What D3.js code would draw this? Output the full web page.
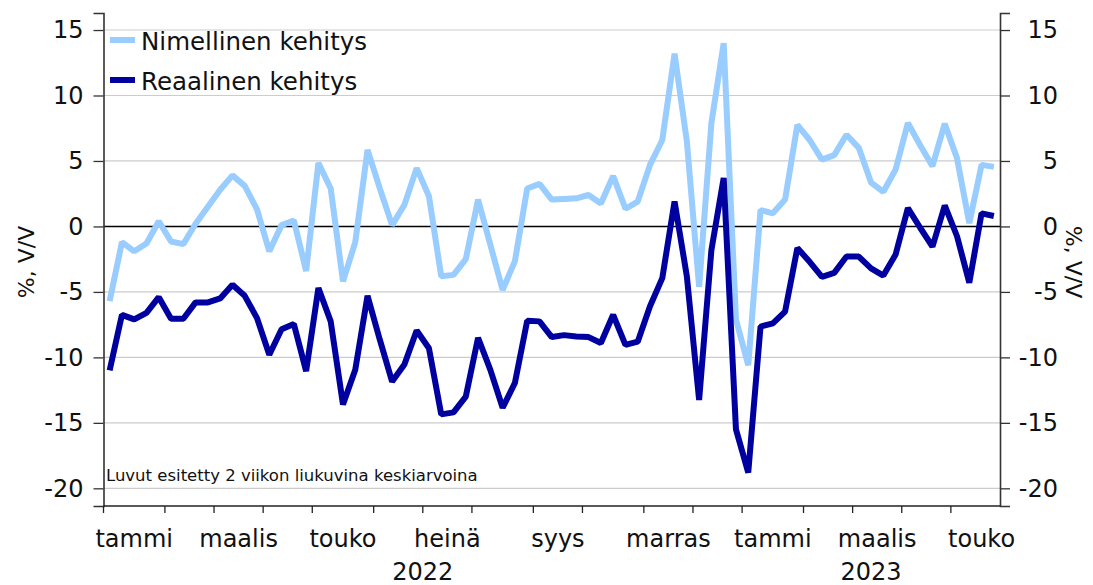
<!doctype html>
<html>
<head>
    <meta charset="UTF-8">
    <title>Nimellinen ja reaalinen kehitys</title>
    <script src="https://d3js.org/d3.v7.min.js"></script>
    <style>
        body { margin: 0; background: #fff; }
        text { font-family: "DejaVu Sans", sans-serif; fill: #111; }
    </style>
</head>
<body>
<div id="chart"></div>

<script>

// viikkodata, 2 viikon liukuvat keskiarvot
var nimellinen = [-5.7, -1.2, -1.9, -1.3, 0.4, -1.15, -1.35, 0.2, 1.5, 2.8, 3.9, 3.1,
    1.3, -1.9, 0.1, 0.45, -3.4, 4.85, 2.9, -4.2, -1.2, 5.85, 2.9, 0.1,
    1.65, 4.45, 2.3, -3.8, -3.7, -2.5, 2.05, -1.4, -4.85, -2.65, 2.9, 3.25,
    2.05, 2.1, 2.15, 2.4, 1.75, 3.85, 1.35, 1.9, 4.7, 6.6, 13.2, 6.5,
    -4.6, 7.9, 14.0, -7.1, -10.6, 1.25, 1.0, 2.05, 7.75, 6.6, 5.1, 5.45,
    7.0, 6.0, 3.35, 2.65, 4.35, 7.9, 6.2, 4.6, 7.85, 5.2, 0.25, 4.7, 4.55];

var reaalinen = [-11.0, -6.75, -7.1, -6.6, -5.4, -7.05, -7.05, -5.8, -5.8, -5.5, -4.45, -5.3,
    -7.0, -9.8, -7.85, -7.45, -11.05, -4.7, -7.25, -13.6, -10.95, -5.3, -8.65, -11.85,
    -10.55, -7.95, -9.3, -14.35, -14.2, -13.0, -8.5, -10.95, -13.85, -11.95, -7.2, -7.25,
    -8.45, -8.3, -8.4, -8.45, -8.9, -6.75, -9.05, -8.8, -6.1, -3.95, 1.9, -3.8,
    -13.25, -1.8, 3.7, -15.5, -18.8, -7.65, -7.4, -6.5, -1.65, -2.7, -3.85, -3.55,
    -2.3, -2.3, -3.2, -3.75, -2.15, 1.4, -0.1, -1.55, 1.6, -0.75, -4.3, 1.0, 0.8];

var kuukaudet = ["tammi", "helmi", "maalis", "huhti", "touko", "kesä", "heinä", "elo",
    "syys", "loka", "marras", "joulu", "tammi", "helmi", "maalis", "huhti", "touko"];
var kuukausiViikot = [5, 4, 4, 4, 5, 4, 4, 5, 4, 5, 4, 4, 5, 4, 4, 4, 5];

var vuodet = ["2022", "2023"];
var vuosiViikot = [52, 21];

var yTicks = [-20, -15, -10, -5, 0, 5, 10, 15];

var sarjat = [
    {nimi: "Nimellinen kehitys", arvot: nimellinen, vari: "#99ccff"},
    {nimi: "Reaalinen kehitys", arvot: reaalinen, vari: "#0000a0"}
];


var width = 1093, height = 585;
var plotLeft = 103.5, plotRight = 1000, plotTop = 13, plotBottom = 506;

var svg = d3.select("#chart")
    .append("svg")
    .attr("width", width)
    .attr("height", height);

var x = d3.scaleBand()
    .domain(d3.range(nimellinen.length))
    .range([plotLeft, plotRight]);
var bw = x.bandwidth();

var y = d3.scaleLinear()
    .domain([-21.35, 16.3])
    .range([plotBottom, plotTop]);

// tavallinen tavuviiva miinusmerkkinä
var fmt = function(d) { return String(d); };

// gridlines
svg.append("g")
    .selectAll("line")
    .data(yTicks.filter(function(d) { return d != 0; }))
    .enter().append("line")
    .attr("x1", plotLeft).attr("x2", plotRight)
    .attr("y1", function(d) { return y(d); })
    .attr("y2", function(d) { return y(d); })
    .attr("stroke", "#cccccc")
    .attr("stroke-width", 1.2);

svg.append("line")
    .attr("x1", plotLeft).attr("x2", plotRight)
    .attr("y1", y(0)).attr("y2", y(0))
    .attr("stroke", "#000")
    .attr("stroke-width", 1.4);

// y axes, left and right
var yLeft = svg.append("g")
    .attr("transform", "translate(" + plotLeft + ",0)")
    .call(d3.axisLeft(y).tickValues(yTicks).tickSize(10).tickPadding(10).tickFormat(fmt));

var yRight = svg.append("g")
    .attr("transform", "translate(" + plotRight + ",0)")
    .call(d3.axisRight(y).tickValues(yTicks).tickSize(10).tickPadding(0).tickFormat(fmt));

yRight.selectAll(".tick text")
    .attr("text-anchor", "end")
    .attr("x", 58);

[yLeft, yRight].forEach(function(ax) {
    ax.select(".domain").attr("stroke", "#333").attr("stroke-width", 1.6);
    ax.selectAll(".tick line").attr("stroke", "#333").attr("stroke-width", 1.3);
    ax.selectAll(".tick text")
        .style("font-family", "DejaVu Sans, sans-serif")
        .style("font-size", "24px")
        .attr("fill", "#111");
});

// x axis
svg.append("line")
    .attr("x1", plotLeft).attr("x2", plotRight)
    .attr("y1", plotBottom).attr("y2", plotBottom)
    .attr("stroke", "#222")
    .attr("stroke-width", 1.6);

var kuukausiAlut = [];
var kertyma = 0;
kuukausiViikot.forEach(function(n) { kuukausiAlut.push(kertyma); kertyma += n; });

svg.append("g")
    .selectAll("line")
    .data(kuukausiAlut)
    .enter().append("line")
    .attr("x1", function(d) { return x(d); })
    .attr("x2", function(d) { return x(d); })
    .attr("y1", plotBottom).attr("y2", plotBottom + 7)
    .attr("stroke", "#222")
    .attr("stroke-width", 1.3);

// joka toinen kuukausi nimetään
svg.append("g")
    .selectAll("text")
    .data(kuukaudet.map(function(k, i) { return {nimi: k, alku: kuukausiAlut[i], n: kuukausiViikot[i]}; })
        .filter(function(d, i) { return i % 2 == 0; }))
    .enter().append("text")
    .attr("x", function(d) { return plotLeft + (d.alku + d.n / 2) * bw; })
    .attr("y", 547)
    .attr("text-anchor", "middle")
    .style("font-size", "24px")
    .text(function(d) { return d.nimi; });

var vuosiAlku = 0;
vuodet.forEach(function(v, i) {
    var x0 = plotLeft + vuosiAlku * bw;
    var x1 = Math.min(plotRight, plotLeft + (vuosiAlku + vuosiViikot[i]) * bw);
    svg.append("text")
        .attr("x", (x0 + x1) / 2)
        .attr("y", 580)
        .attr("text-anchor", "middle")
        .style("font-size", "24px")
        .text(v);
    vuosiAlku += vuosiViikot[i];
});

// axis titles
svg.append("text")
    .attr("transform", "translate(34,262) rotate(-90)")
    .attr("text-anchor", "middle")
    .style("font-size", "22px")
    .text("%, V/V");

svg.append("text")
    .attr("transform", "translate(1066,262) rotate(90)")
    .attr("text-anchor", "middle")
    .style("font-size", "22px")
    .text("%, V/V");

// the lines
var line = d3.line()
    .x(function(d, i) { return x(i) + bw / 2; })
    .y(function(d) { return y(d); });

sarjat.forEach(function(s) {
    svg.append("path")
        .datum(s.arvot)
        .attr("d", line)
        .attr("fill", "none")
        .attr("stroke", s.vari)
        .attr("stroke-width", 6)
        .attr("stroke-linejoin", "bevel");
});

// legend
var legend = svg.append("g");
sarjat.forEach(function(s, i) {
    legend.append("line")
        .attr("x1", 110).attr("x2", 135)
        .attr("y1", 40 + i * 40).attr("y2", 40 + i * 40)
        .attr("stroke", s.vari)
        .attr("stroke-width", 6);
    legend.append("text")
        .attr("x", 141)
        .attr("y", 50 + i * 40)
        .style("font-size", "24.5px")
        .text(s.nimi);
});

svg.append("text")
    .attr("x", 106)
    .attr("y", 481)
    .style("font-size", "16.5px")
    .text("Luvut esitetty 2 viikon liukuvina keskiarvoina");

</script>
</body>
</html>
